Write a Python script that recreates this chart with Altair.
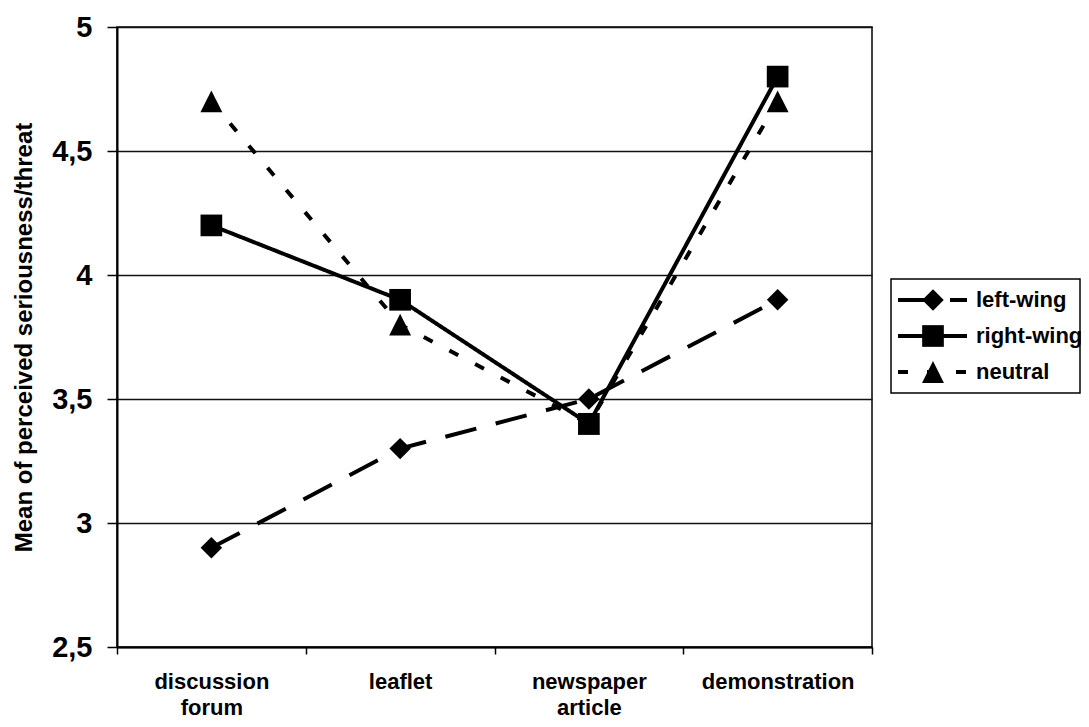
import altair as alt
import pandas as pd

categories = ["discussion forum", "leaflet", "newspaper article", "demonstration"]
series = ["left-wing", "right-wing", "neutral"]
left_wing = [2.9, 3.3, 3.5, 3.9]
right_wing = [4.2, 3.9, 3.4, 4.8]
neutral = [4.7, 3.8, 3.4, 4.7]
y_ticks = [2.5, 3, 3.5, 4, 4.5, 5]

FONT = "Liberation Sans"
TRI = "M0,-1L1,1L-1,1Z"

rows = []
for name, vals in zip(series, [left_wing, right_wing, neutral]):
    for c, v in zip(categories, vals):
        rows.append({"series": name, "category": c, "value": v})
df = pd.DataFrame(rows)

dash_scale = alt.Scale(domain=series, range=[[32, 20], [1, 0], [10, 19]])
shape_scale = alt.Scale(domain=series, range=["diamond", "square", TRI])
size_scale = alt.Scale(domain=series, range=[460, 480, 440])

x_enc = alt.X(
    "category:N",
    sort=categories,
    bandPosition=0.5,
    scale=alt.Scale(type="band", domain=categories, paddingInner=0, paddingOuter=0),
    axis=alt.Axis(
        title=None,
        labelExpr="split(datum.label, ' ')",
        labelAngle=0,
        labelFont=FONT,
        labelFontSize=22,
        labelFontWeight="bold",
        labelColor="black",
        labelPadding=17,
        labelLineHeight=26,
        labelOverlap=False,
        tickBand="extent",
        tickSize=7,
        tickColor="black",
        tickWidth=1.5,
        domainColor="black",
        domainWidth=2,
        grid=False,
    ),
)

y_enc = alt.Y(
    "value:Q",
    scale=alt.Scale(domain=[2.5, 5], nice=False, zero=False),
    axis=alt.Axis(
        values=y_ticks,
        title="Mean of perceived seriousness/threat",
        titleFont=FONT,
        titleFontSize=24,
        titleFontWeight="bold",
        titleColor="black",
        titlePadding=15,
        labelExpr="replace(toString(datum.value), '.', ',')",
        labelFont=FONT,
        labelFontSize=29,
        labelFontWeight="bold",
        labelColor="black",
        labelPadding=15,
        tickSize=10,
        tickColor="black",
        tickWidth=1.5,
        domainColor="black",
        domainWidth=2,
        grid=True,
        gridColor="#111111",
        gridWidth=1.3,
    ),
)

lines = alt.Chart(df).mark_line(color="black", strokeWidth=4, strokeCap="butt").encode(
    x=x_enc,
    y=y_enc,
    strokeDash=alt.StrokeDash("series:N", scale=dash_scale, legend=None),
    detail="series:N",
)

points = alt.Chart(df).mark_point(filled=True, opacity=1, color="black", strokeWidth=0).encode(
    x=x_enc,
    y=y_enc,
    shape=alt.Shape("series:N", scale=shape_scale, legend=None),
    size=alt.Size("series:N", scale=size_scale, legend=None),
    order=alt.Order("series:N"),
)

main = alt.layer(lines, points)

leg_df = pd.DataFrame({"series": series})
leg_y = alt.Y(
    "series:N",
    scale=alt.Scale(type="point", domain=series, range=[273, 345], padding=0),
    axis=None,
)

leg_box = alt.Chart(alt.Data(values=[{"k": 1}])).mark_rect(
    fill="white", stroke="black", strokeWidth=1.5
).encode(x=alt.value(774), x2=alt.value(963), y=alt.value(252), y2=alt.value(366))

leg_rule = alt.Chart(leg_df).mark_rule(color="black", strokeWidth=4, strokeCap="butt").encode(
    x=alt.value(781),
    x2=alt.value(850),
    y=leg_y,
    strokeDash=alt.StrokeDash("series:N", scale=dash_scale, legend=None),
)

leg_pts = alt.Chart(leg_df).mark_point(filled=True, opacity=1, color="black", strokeWidth=0).encode(
    x=alt.value(816),
    y=leg_y,
    shape=alt.Shape("series:N", scale=shape_scale, legend=None),
    size=alt.Size("series:N", scale=size_scale, legend=None),
)

leg_text = alt.Chart(leg_df).mark_text(
    align="left", baseline="middle", font=FONT, fontSize=22, fontWeight="bold", color="black"
).encode(x=alt.value(859), y=leg_y, text="series:N")

legend = alt.layer(leg_box, leg_rule, leg_pts, leg_text)

chart = (
    alt.layer(main, legend)
    .resolve_scale(y="independent")
    .properties(
        width=755,
        height=620,
        autosize=alt.AutoSizeParams(type="none"),
        padding={"left": 109, "top": 19, "right": 209, "bottom": 72},
        background="white",
    )
    .configure_view(stroke="black", strokeWidth=1.5)
)

chart.save("out.html", embed_options={"renderer": "svg", "actions": False})
